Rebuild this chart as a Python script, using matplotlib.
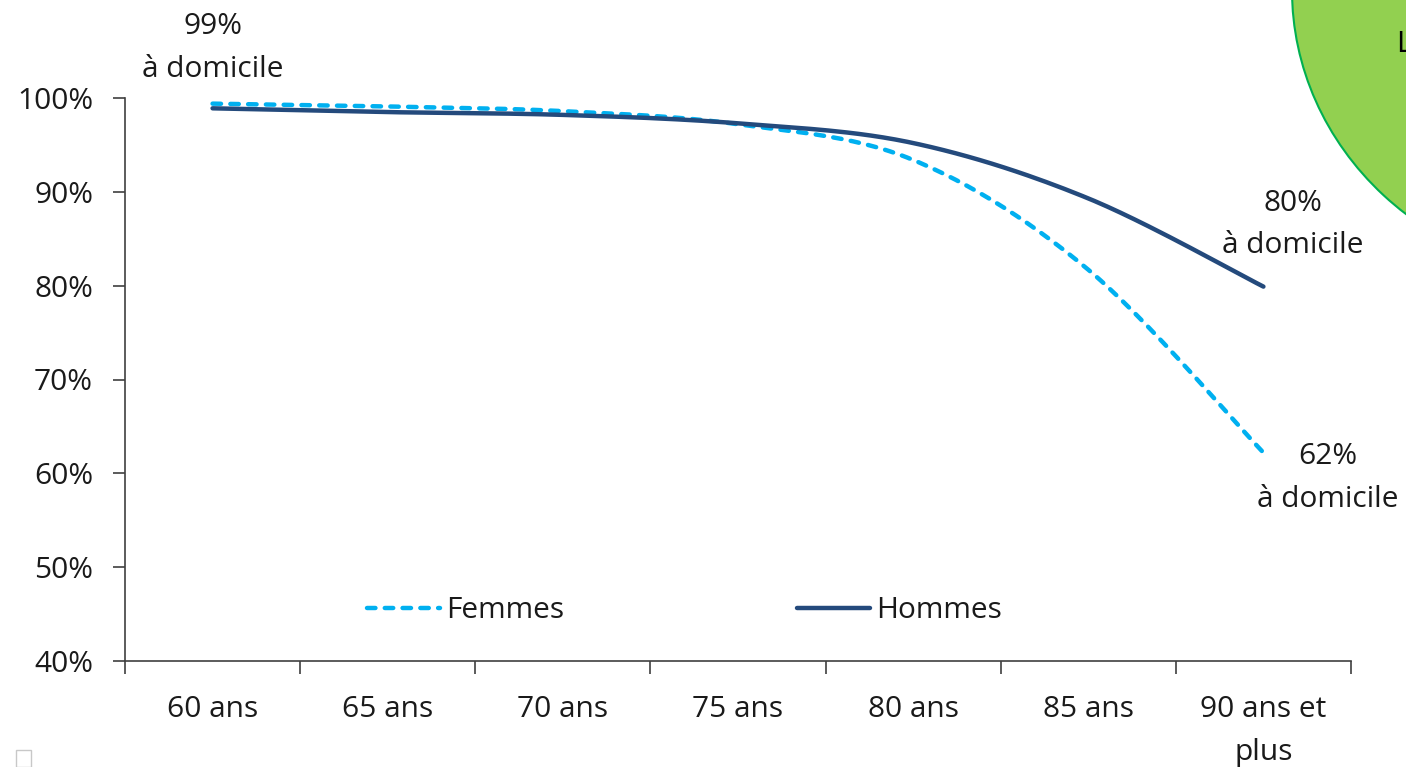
import matplotlib.pyplot as plt
from matplotlib.patches import Ellipse, Rectangle
import numpy as np

plt.rcParams['font.family'] = ['Open Sans', 'DejaVu Sans']

# data
ages = ['60 ans', '65 ans', '70 ans', '75 ans', '80 ans', '85 ans', '90 ans et\nplus']
femmes = [99.4, 99.1, 98.6, 97.2, 93.4, 81.7, 62.2]
hommes = [98.9, 98.5, 98.2, 97.3, 95.2, 89.3, 79.9]
notes = ['99%\nà domicile', '80%\nà domicile', '62%\nà domicile']


def smooth(xs, ys, n=30):
    # excel-like smoothed line (bezier with 1/6 tangents)
    xs = np.asarray(xs, float)
    ys = np.asarray(ys, float)
    P = np.column_stack([xs, ys])
    out = []
    for i in range(len(P) - 1):
        p0 = P[i - 1] if i > 0 else P[i]
        p1 = P[i]
        p2 = P[i + 1]
        p3 = P[i + 2] if i + 2 < len(P) else P[i + 1]
        c1 = p1 + (p2 - p0) / 6
        c2 = p2 - (p3 - p1) / 6
        t = np.linspace(0, 1, n)[:, None]
        seg = (1 - t)**3 * p1 + 3 * (1 - t)**2 * t * c1 + 3 * (1 - t) * t**2 * c2 + t**3 * p2
        out.append(seg if i == 0 else seg[1:])
    out = np.vstack(out)
    return out[:, 0], out[:, 1]


fs = 21.5
ls = 1.62
fig = plt.figure(figsize=(14.06, 7.67), dpi=100)
ax = fig.add_axes([125 / 1406, 1 - 661 / 767, 1226 / 1406, 563 / 767])

x = np.arange(len(ages)) + 0.5
fx, fy = smooth(x, femmes)
hx, hy = smooth(x, hommes)
ax.plot(fx, fy, color='#00B0F0', lw=3.2, dashes=(1.9, 2.1), dash_capstyle='round',
        label='Femmes')
ax.plot(hx, hy, color='#244A7C', lw=3.2, solid_capstyle='round', label='Hommes')

ax.set_xlim(0, len(ages))
ax.set_ylim(40, 100)
ax.set_yticks(np.arange(40, 101, 10))
ax.set_yticklabels([f'{v}%' for v in range(40, 101, 10)])
ax.set_xticks(np.arange(len(ages) + 1))
ax.set_xticklabels([])
ax.set_xticks(x, minor=True)
ax.set_xticklabels(ages, minor=True, linespacing=ls)
ax.tick_params(axis='x', which='minor', length=0, pad=24.5, labelsize=fs, colors='#1a1a1a')
ax.tick_params(axis='x', which='major', direction='out', length=9, width=1.2, color='#404040')
ax.tick_params(axis='y', direction='out', length=9, width=1.2, color='#404040',
               pad=14, labelsize=fs, labelcolor='#1a1a1a')
for s in ['top', 'right']:
    ax.spines[s].set_visible(False)
for s in ['left', 'bottom']:
    ax.spines[s].set_color('#404040')
    ax.spines[s].set_linewidth(1.2)

# labels on the ends of the lines
ax.text(x[0], 105.3, notes[0], ha='center', va='center', fontsize=fs,
        linespacing=ls, color='#1a1a1a', clip_on=False)
ax.text(x[-1] + 0.17, 86.5, notes[1], ha='center', va='center', fontsize=fs,
        linespacing=ls, color='#1a1a1a', clip_on=False)
ax.text(x[-1] + 0.37, 59.5, notes[2], ha='center', va='center', fontsize=fs,
        linespacing=ls, color='#1a1a1a', clip_on=False)

ax.legend(loc='center left', bbox_to_anchor=(242 / 1226, 50 / 563), ncol=2,
          frameon=False, fontsize=fs, handlelength=2.45, handletextpad=0.2,
          columnspacing=7.8, labelcolor='#1a1a1a', borderpad=0, borderaxespad=0)

# green bubble cut by the right edge
fig.patches.append(Ellipse((1604 / 1406, 1 - (-10) / 767), 624 / 1406, 580 / 767,
                           transform=fig.transFigure, facecolor='#92D050',
                           edgecolor='#00B050', lw=1.5, zorder=5))
fig.text(1396 / 1406, 1 - 45 / 767, 'L', fontsize=fs, va='center', ha='left',
         color='black', zorder=6)
fig.patches.append(Rectangle((16 / 1406, 0), 15 / 1406, 17 / 767, transform=fig.transFigure,
                             facecolor='white', edgecolor='#c8c8c8', lw=1))

fig.savefig('out.png', dpi=100)
